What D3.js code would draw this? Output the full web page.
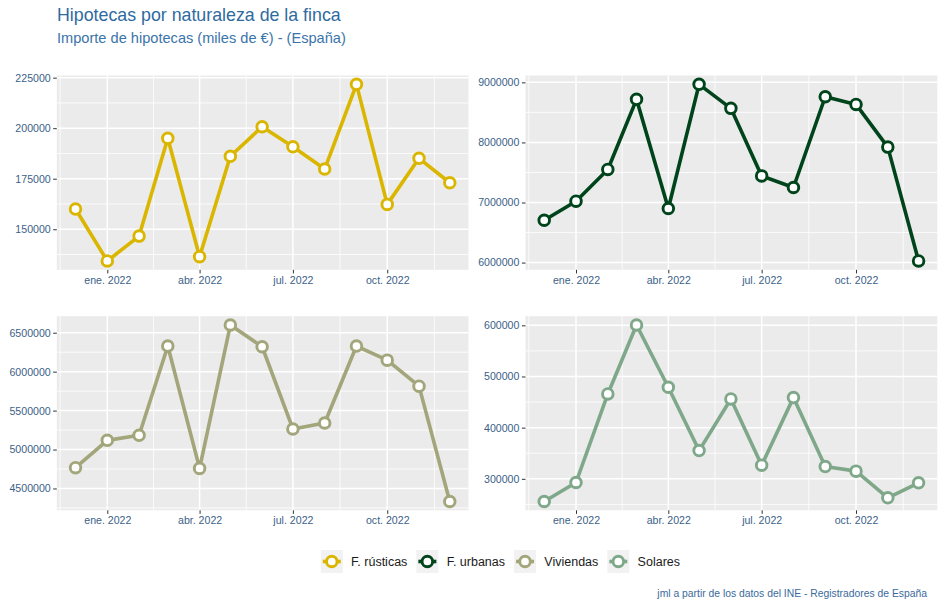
<!DOCTYPE html>
<html>
<head>
<meta charset="utf-8">
<script src="https://cdn.jsdelivr.net/npm/d3@7/dist/d3.min.js"></script>
<style>
  body { margin: 0; background: #fff; }
  svg { display: block; font-family: "Liberation Sans", Arial, sans-serif; }
</style>
</head>
<body>
<svg id="chart" width="944" height="607"></svg>
<script>
// ---------- data ----------
const months = ["2021-12-01","2022-01-01","2022-02-01","2022-03-01","2022-04-01","2022-05-01","2022-06-01",
                "2022-07-01","2022-08-01","2022-09-01","2022-10-01","2022-11-01","2022-12-01"];
const seriesNames = ["F. rústicas", "F. urbanas", "Viviendas", "Solares"];
const rusticas  = [160000, 134300, 146600, 195000, 136400, 186100, 200700, 190800, 179800, 221700, 162300, 185100, 173000];
const urbanas   = [6705000, 7022000, 7550000, 8717000, 6900000, 8967000, 8567000, 7443000, 7250000, 8760000, 8633000, 7922000, 6027000];
const viviendas = [4767000, 5118000, 5183000, 6329000, 4758000, 6599000, 6320000, 5264000, 5341000, 6329000, 6148000, 5814000, 4333000];
const solares   = [255700, 292800, 465900, 600600, 479000, 355200, 456100, 326700, 458700, 324000, 315000, 262900, 292200];
const xTickDates  = ["2022-01-01", "2022-04-01", "2022-07-01", "2022-10-01"];
const xTickLabels = ["ene. 2022", "abr. 2022", "jul. 2022", "oct. 2022"];
const yTicksRusticas  = [150000, 175000, 200000, 225000];
const yTicksUrbanas   = [6000000, 7000000, 8000000, 9000000];
const yTicksViviendas = [4500000, 5000000, 5500000, 6000000, 6500000];
const yTicksSolares   = [300000, 400000, 500000, 600000];
const colors = ["#dab600", "#00441b", "#a3a57a", "#7fa88a"];

const titleText = "Hipotecas por naturaleza de la finca";
const subtitleText = "Importe de hipotecas (miles de €) - (España)";
const captionText = "jml a partir de los datos del INE - Registradores de España";

// ---------- layout ----------
const parse = d3.timeParse("%Y-%m-%d");
const dates = months.map(parse);
const tickDates = xTickDates.map(parse);

const svg = d3.select("#chart");
const panelsLayout = [
  { x0: 56.8, x1: 468.5, y0: 75.5, y1: 269.8 },
  { x0: 525.5, x1: 937.3, y0: 75.5, y1: 269.8 },
  { x0: 56.8, x1: 468.5, y0: 316.2, y1: 510.3 },
  { x0: 525.5, x1: 937.3, y0: 316.2, y1: 510.3 }
];
const allValues = [rusticas, urbanas, viviendas, solares];
const allTicks = [yTicksRusticas, yTicksUrbanas, yTicksViviendas, yTicksSolares];

const labelColor = "#3c5f88";

function expand(lo, hi) { const d = (hi - lo) * 0.05; return [lo - d, hi + d]; }

const t0 = +dates[0], t1 = +dates[dates.length - 1];
const xd = expand(t0, t1).map(t => new Date(t));

const majorExt = [parse("2021-10-01"), ...tickDates, parse("2023-01-01")];
const xMinor = [];
for (let i = 0; i < majorExt.length - 1; i++) xMinor.push(new Date((+majorExt[i] + +majorExt[i + 1]) / 2));

allValues.forEach((vals, i) => {
  const L = panelsLayout[i];
  const x = d3.scaleTime().domain(xd).range([L.x0, L.x1]);
  const y = d3.scaleLinear().domain(expand(d3.min(vals), d3.max(vals))).range([L.y1, L.y0]);
  const ticks = allTicks[i];
  const step = ticks[1] - ticks[0];
  const yMinor = [];
  for (let k = -1; k < ticks.length; k++) {
    const v = (k < 0 ? ticks[0] - step : ticks[k]) + step / 2;
    const [lo, hi] = y.domain();
    if (v > lo && v < hi) yMinor.push(v);
  }
  const g = svg.append("g");
  g.append("rect").attr("x", L.x0).attr("y", L.y0).attr("width", L.x1 - L.x0).attr("height", L.y1 - L.y0)
    .attr("fill", "#ebebeb");
  g.selectAll(".ymin").data(yMinor).join("line")
    .attr("x1", L.x0).attr("x2", L.x1).attr("y1", d => y(d)).attr("y2", d => y(d))
    .attr("stroke", "#fff").attr("stroke-width", 0.8);
  g.selectAll(".xmin").data(xMinor.filter(d => x(d) > L.x0 && x(d) < L.x1)).join("line")
    .attr("y1", L.y0).attr("y2", L.y1).attr("x1", d => x(d)).attr("x2", d => x(d))
    .attr("stroke", "#fff").attr("stroke-width", 0.8);
  g.selectAll(".ymaj").data(ticks).join("line")
    .attr("x1", L.x0).attr("x2", L.x1).attr("y1", d => y(d)).attr("y2", d => y(d))
    .attr("stroke", "#fff").attr("stroke-width", 1.5);
  g.selectAll(".xmaj").data(tickDates).join("line")
    .attr("y1", L.y0).attr("y2", L.y1).attr("x1", d => x(d)).attr("x2", d => x(d))
    .attr("stroke", "#fff").attr("stroke-width", 1.5);

  const ay = g.append("g").attr("transform", `translate(${L.x0},0)`)
    .call(d3.axisLeft(y).tickValues(ticks).tickFormat(d3.format("d")).tickSize(3.6).tickPadding(2.5));
  const ax = g.append("g").attr("transform", `translate(0,${L.y1})`)
    .call(d3.axisBottom(x).tickValues(tickDates).tickFormat((d, j) => xTickLabels[j]).tickSize(3.6).tickPadding(3));
  [ax, ay].forEach(a => {
    a.select(".domain").remove();
    a.selectAll(".tick line").attr("stroke", "#333").attr("stroke-width", 1);
    a.selectAll(".tick text").attr("fill", labelColor).style("font-size", "10.6px")
      .style("font-family", '"Liberation Sans", Arial, sans-serif');
  });

  const line = d3.line().x((d, j) => x(dates[j])).y(d => y(d));
  g.append("path").datum(vals).attr("d", line).attr("fill", "none")
    .attr("stroke", colors[i]).attr("stroke-width", 3.6).attr("stroke-linejoin", "round");
  g.selectAll(".pt").data(vals).join("circle")
    .attr("cx", (d, j) => x(dates[j])).attr("cy", d => y(d)).attr("r", 5.3)
    .attr("fill", "#fff").attr("stroke", colors[i]).attr("stroke-width", 2.9);
});

// ---------- titles ----------
svg.append("text").attr("x", 57).attr("y", 21).text(titleText)
  .attr("fill", "#2f6a9f").style("font-size", "17.8px");
svg.append("text").attr("x", 57).attr("y", 43.3).text(subtitleText)
  .attr("fill", "#3a74aa").style("font-size", "14.6px");
svg.append("text").attr("x", 927).attr("y", 596.5).attr("text-anchor", "end").text(captionText)
  .attr("fill", "#3a6a9c").style("font-size", "10.35px");

// ---------- legend ----------
const lg = svg.append("g");
let cx = 0;
seriesNames.forEach((name, i) => {
  const it = lg.append("g");
  it.append("rect").attr("x", 0).attr("y", -11.5).attr("width", 22).attr("height", 23).attr("fill", "#f2f2f2");
  it.append("line").attr("x1", 2).attr("x2", 20).attr("y1", 0).attr("y2", 0)
    .attr("stroke", colors[i]).attr("stroke-width", 3.6);
  it.append("circle").attr("cx", 11).attr("cy", 0).attr("r", 5.3)
    .attr("fill", "#fff").attr("stroke", colors[i]).attr("stroke-width", 2.9);
  const t = it.append("text").attr("x", 30.3).attr("y", 4.3).text(name)
    .attr("fill", "#1a1a1a").style("font-size", "12.5px");
  const w = t.node().getComputedTextLength();
  it.attr("transform", `translate(${cx},0)`);
  cx += 30.3 + w + 9;
});
const totalW = cx - 9;
lg.attr("transform", `translate(${500.4 - totalW / 2},561.5)`);
</script>
</body>
</html>
